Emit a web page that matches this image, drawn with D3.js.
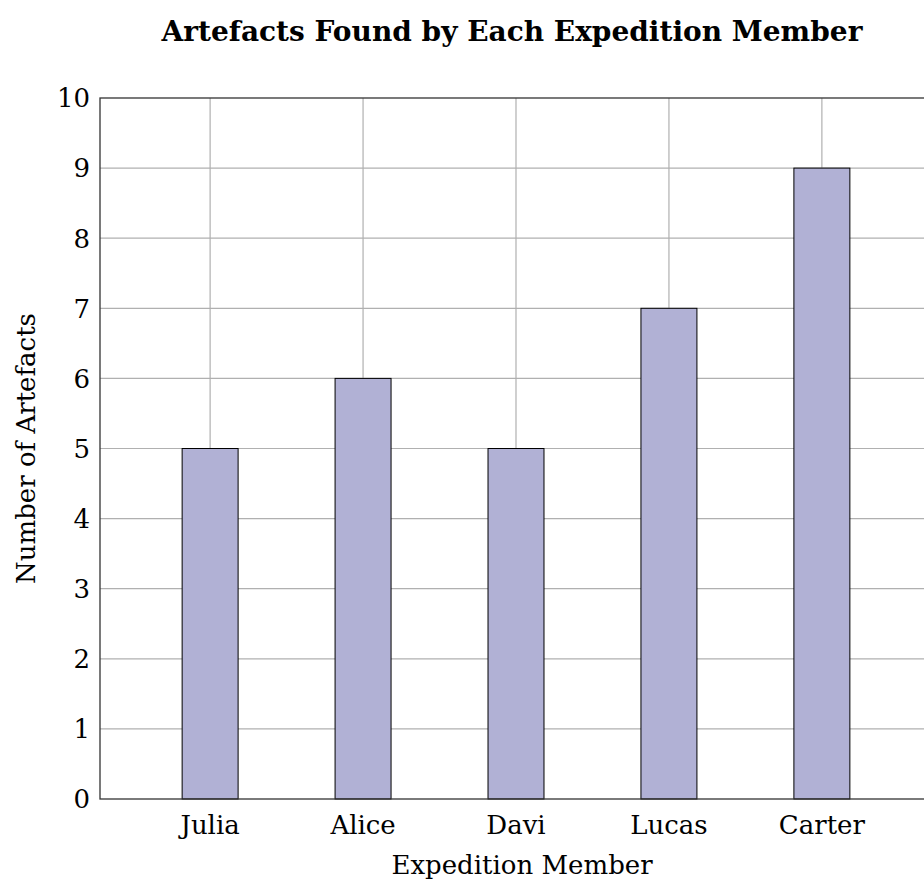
<html>
<head>
    <meta charset="UTF-8">
    <script src="https://d3js.org/d3.v7.min.js"></script>
    <style>
        body { margin: 0; background: #fff; }
        text { font-family: "DejaVu Serif", serif; }
    </style>
</head>
<body>
</body>
<script>
    // data
    var members = ["Julia", "Alice", "Davi", "Lucas", "Carter"];
    var artefacts = [5, 6, 5, 7, 9];
    var yTicks = [0, 1, 2, 3, 4, 5, 6, 7, 8, 9, 10];

    var W = 924, H = 885;
    // plot box runs slightly past the right edge of the window, as in the original
    var plot = { left: 100, right: 932, top: 98, bottom: 799 };

    var svg = d3.select("body").append("svg")
        .attr("width", W)
        .attr("height", H);

    var x = d3.scalePoint()
        .domain(members)
        .range([plot.left, plot.right])
        .padding(0.72);

    var y = d3.scaleLinear()
        .domain([0, 10])
        .range([plot.bottom, plot.top]);

    var barW = x.step() * 0.366;

    // grid
    svg.append("g").selectAll("line.h")
        .data(yTicks.slice(1, -1)).enter()
        .append("line")
        .attr("x1", plot.left).attr("x2", plot.right)
        .attr("y1", d => y(d)).attr("y2", d => y(d))
        .style("stroke", "#b0b0b0").style("stroke-width", 1.2);

    svg.append("g").selectAll("line.v")
        .data(members).enter()
        .append("line")
        .attr("x1", d => x(d)).attr("x2", d => x(d))
        .attr("y1", plot.top).attr("y2", plot.bottom)
        .style("stroke", "#b0b0b0").style("stroke-width", 1.2);

    // bars
    svg.append("g").selectAll("rect")
        .data(members).enter()
        .append("rect")
        .attr("x", d => x(d) - barW / 2)
        .attr("width", barW)
        .attr("y", (d, i) => y(artefacts[i]))
        .attr("height", (d, i) => y(0) - y(artefacts[i]))
        .style("fill", "#b1b1d5")
        .style("stroke", "#000")
        .style("stroke-width", 1);

    // frame
    svg.append("rect")
        .attr("x", plot.left).attr("y", plot.top)
        .attr("width", plot.right - plot.left)
        .attr("height", plot.bottom - plot.top)
        .style("fill", "none")
        .style("stroke", "#333")
        .style("stroke-width", 1.3);

    // y tick labels
    svg.append("g").selectAll("text")
        .data(yTicks).enter()
        .append("text")
        .attr("x", plot.left - 10)
        .attr("y", d => y(d))
        .attr("dy", "0.36em")
        .attr("text-anchor", "end")
        .style("font-size", "26px")
        .text(d => d);

    // x tick labels
    svg.append("g").selectAll("text")
        .data(members).enter()
        .append("text")
        .attr("x", d => x(d))
        .attr("y", 834)
        .attr("text-anchor", "middle")
        .style("font-size", "26px")
        .text(d => d);

    // axis titles
    svg.append("text")
        .attr("x", 522).attr("y", 874)
        .attr("text-anchor", "middle")
        .style("font-size", "26px")
        .text("Expedition Member");

    svg.append("text")
        .attr("transform", "translate(35," + ((plot.top + plot.bottom) / 2) + ") rotate(-90)")
        .attr("text-anchor", "middle")
        .style("font-size", "26px")
        .text("Number of Artefacts");

    svg.append("text")
        .attr("x", 512).attr("y", 41)
        .attr("text-anchor", "middle")
        .style("font-size", "28px")
        .style("font-weight", "bold")
        .text("Artefacts Found by Each Expedition Member");
</script>
</html>
